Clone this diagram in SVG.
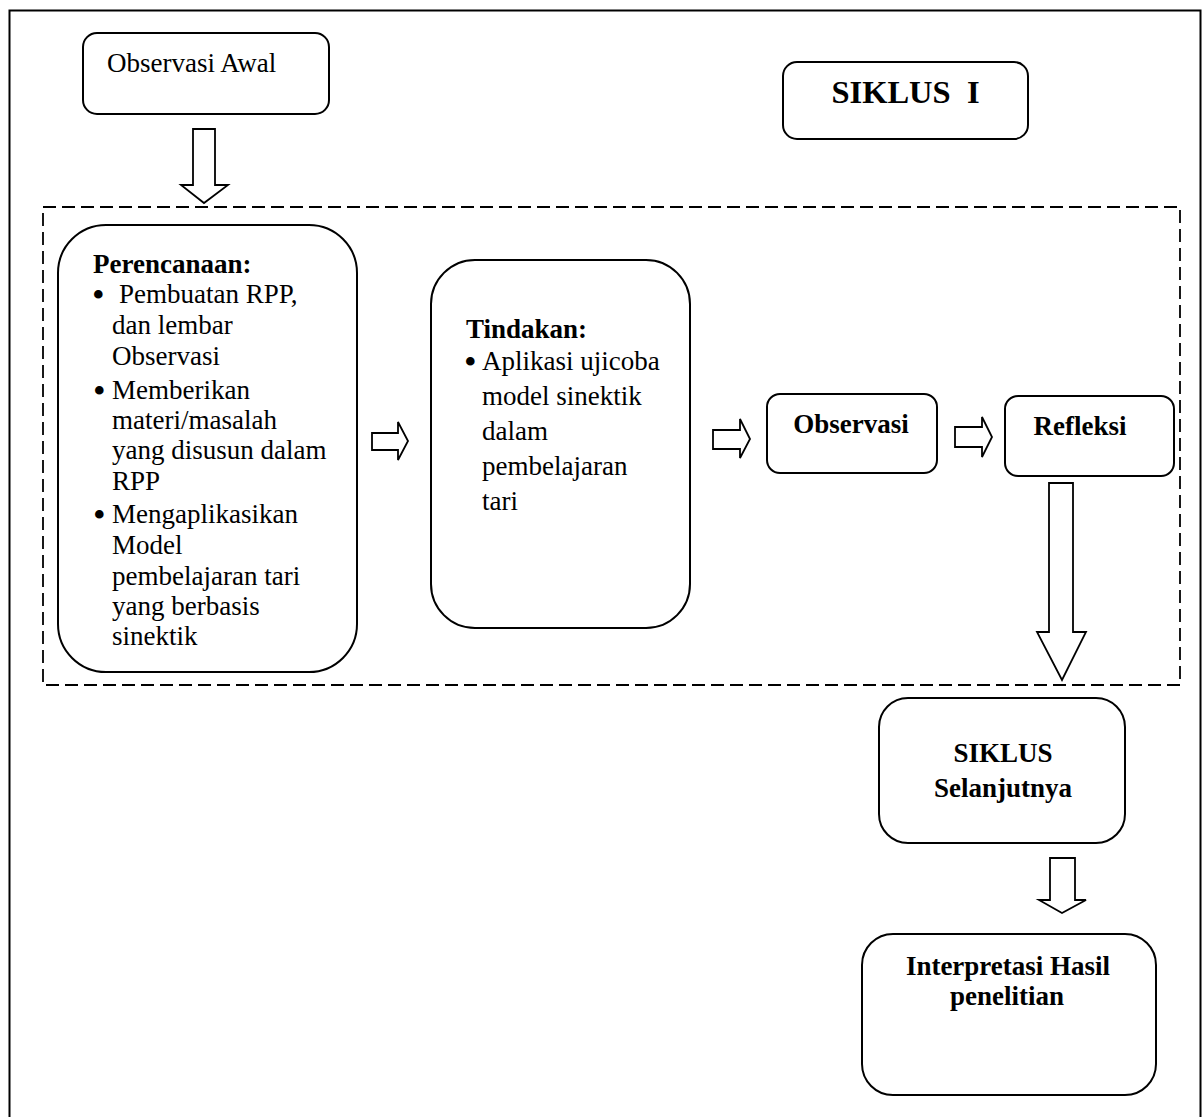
<svg xmlns="http://www.w3.org/2000/svg" width="1202" height="1117" viewBox="0 0 1202 1117">
<style>
.box{fill:#fff;stroke:#000;stroke-width:2}
.arr{fill:#fff;stroke:#000;stroke-width:1.8;stroke-linejoin:miter}
.t{font-family:"Liberation Serif","Times New Roman",serif;font-size:27px;fill:#000}
.b{font-weight:bold}
.m{text-anchor:middle}
.bu{font-family:"Liberation Serif","Times New Roman",serif;font-size:36px;fill:#000}
</style>
<rect x="0" y="0" width="1202" height="1117" fill="#fff"/>
<rect x="9.5" y="10.5" width="1191" height="1200" fill="none" stroke="#000" stroke-width="2"/>
<rect id="cycle-frame" x="43" y="207" width="1137" height="478" fill="none" stroke="#000" stroke-width="1.8" stroke-dasharray="13 6"/>

<g id="observasi-awal">
<rect class="box" x="83" y="33" width="246" height="81" rx="14"/>
<text class="t" x="107" y="72">Observasi Awal</text>
</g>

<g id="siklus-i">
<rect class="box" x="783" y="62" width="245" height="77" rx="14"/>
<text class="t b m" x="905.5" y="103" style="font-size:32.5px;white-space:pre" xml:space="preserve">SIKLUS  I</text>
</g>

<g id="perencanaan">
<rect class="box" x="58" y="225" width="299" height="447" rx="48"/>
<text class="t b" x="93" y="273">Perencanaan:</text>
<text class="bu" x="92" y="307">•</text>
<text class="t" x="119" y="303">Pembuatan RPP,</text>
<text class="t" x="112" y="334">dan lembar</text>
<text class="t" x="112" y="365">Observasi</text>
<text class="bu" x="93" y="403">•</text>
<text class="t" x="112" y="399">Memberikan</text>
<text class="t" x="112" y="429">materi/masalah</text>
<text class="t" x="112" y="459">yang disusun dalam</text>
<text class="t" x="112" y="490">RPP</text>
<text class="bu" x="93" y="527">•</text>
<text class="t" x="112" y="523">Mengaplikasikan</text>
<text class="t" x="112" y="554">Model</text>
<text class="t" x="112" y="585">pembelajaran tari</text>
<text class="t" x="112" y="615">yang berbasis</text>
<text class="t" x="112" y="645">sinektik</text>
</g>

<g id="tindakan">
<rect class="box" x="431" y="260" width="259" height="368" rx="44"/>
<text class="t b" x="466" y="338">Tindakan:</text>
<text class="bu" x="464" y="374">•</text>
<text class="t" x="482" y="370">Aplikasi ujicoba</text>
<text class="t" x="482" y="405">model sinektik</text>
<text class="t" x="482" y="440">dalam</text>
<text class="t" x="482" y="475">pembelajaran</text>
<text class="t" x="482" y="510">tari</text>
</g>

<g id="observasi">
<rect class="box" x="767" y="394" width="170" height="79" rx="13"/>
<text class="t b m" x="851" y="433">Observasi</text>
</g>

<g id="refleksi">
<rect class="box" x="1005" y="396" width="169" height="80" rx="13"/>
<text class="t b m" x="1080" y="435">Refleksi</text>
</g>

<g id="siklus-selanjutnya">
<rect class="box" x="879" y="698" width="246" height="145" rx="29"/>
<text class="t b m" x="1003" y="762">SIKLUS</text>
<text class="t b m" x="1003" y="797">Selanjutnya</text>
</g>

<g id="interpretasi">
<rect class="box" x="862" y="934" width="294" height="161" rx="31"/>
<text class="t b m" x="1008" y="975">Interpretasi Hasil</text>
<text class="t b m" x="1007" y="1005">penelitian</text>
</g>

<g id="connectors">
<polygon class="arr" points="193,129 215,129 215,185 228,185 204,203 181,185 193,185"/>
<polygon class="arr" points="372,433 398,433 398,422 408,441 398,460 398,450 372,450"/>
<polygon class="arr" points="713,430 740,430 740,419 750,439 740,458 740,449 713,449"/>
<polygon class="arr" points="955,427 982,427 982,417 992,437 982,457 982,447 955,447"/>
<polygon class="arr" points="1049,483 1073,483 1073,632 1086,632 1062,680 1037,632 1049,632"/>
<polygon class="arr" points="1050,858 1075,858 1075,900 1086,900 1062,913 1039,900 1050,900"/>
</g>
</svg>
